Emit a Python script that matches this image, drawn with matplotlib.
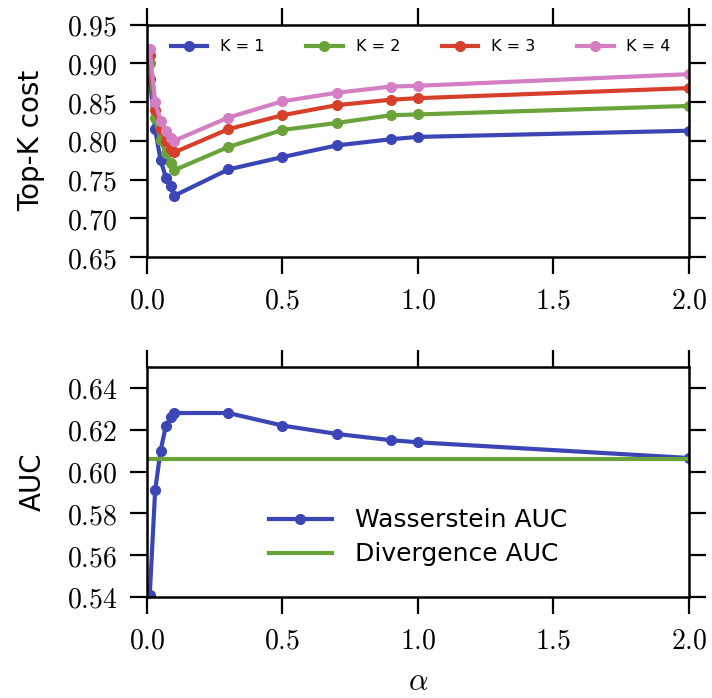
import numpy as np
import matplotlib
matplotlib.use('Agg')
import matplotlib.pyplot as plt
from matplotlib.ticker import FuncFormatter

plt.rcParams['mathtext.fontset'] = 'cm'

###Data###
alpha = [0.01, 0.03, 0.05, 0.07, 0.09, 0.1, 0.3, 0.5, 0.7, 0.9, 1.0, 2.0]

cost_k1 = [0.880, 0.815, 0.775, 0.752, 0.741, 0.729, 0.763, 0.779, 0.794, 0.802, 0.805, 0.813]
cost_k2 = [0.900, 0.829, 0.801, 0.784, 0.771, 0.762, 0.792, 0.814, 0.823, 0.833, 0.834, 0.845]
cost_k3 = [0.911, 0.840, 0.815, 0.800, 0.790, 0.785, 0.815, 0.833, 0.846, 0.853, 0.855, 0.868]
cost_k4 = [0.919, 0.850, 0.826, 0.812, 0.804, 0.800, 0.830, 0.851, 0.862, 0.870, 0.871, 0.886]
k_labels = ['K = 1', 'K = 2', 'K = 3', 'K = 4']

wass_auc = [0.541, 0.591, 0.610, 0.622, 0.626, 0.628, 0.628, 0.622, 0.618, 0.615, 0.614, 0.6065]
div_auc = 0.606

colors = ['#3b45b5', '#6aa33a', '#d6402b', '#d47fc4']


def styleAxes(ax, yfmt):
	for sp in ax.spines.values():
		sp.set_linewidth(1.8)
	ax.tick_params(direction='out', length=12.5, width=1.6, top=True, right=True,
		labelsize=20, pad=9)
	ax.xaxis.set_major_formatter(FuncFormatter(lambda v, p: '$%.1f$' % v))
	ax.yaxis.set_major_formatter(FuncFormatter(lambda v, p: yfmt % v))


fig = plt.figure(figsize=(7.12, 6.98), dpi=100)
ax1 = fig.add_axes([0.2065, 0.6318, 0.761, 0.333])
ax2 = fig.add_axes([0.2065, 0.1447, 0.761, 0.3295])

for vals, c, lab in zip([cost_k1, cost_k2, cost_k3, cost_k4], colors, k_labels):
	ax1.plot(alpha, vals, '-o', color=c, lw=3.0, ms=7, label=lab)
ax1.set_xlim(0, 2.0)
ax1.set_ylim(0.65, 0.95)
ax1.set_xticks(np.arange(0, 2.01, 0.5))
ax1.set_yticks(np.arange(0.65, 0.951, 0.05))
styleAxes(ax1, '$%.2f$')
ax1.set_ylabel('Top-K cost', fontsize=20, labelpad=16)
ax1.legend(loc='center', bbox_to_anchor=(0.505, 0.905), ncol=4, frameon=False,
	fontsize=11.5, handlelength=2.3, columnspacing=2.6, handletextpad=0.8)

ax2.plot(alpha, wass_auc, '-o', color=colors[0], lw=3.0, ms=7, label='Wasserstein AUC')
ax2.plot([0, 2.0], [div_auc, div_auc], '-', color=colors[1], lw=3.0, label='Divergence AUC')
ax2.set_xlim(0, 2.0)
ax2.set_ylim(0.54, 0.65)
ax2.set_xticks(np.arange(0, 2.01, 0.5))
ax2.set_yticks(np.arange(0.54, 0.641, 0.02))
styleAxes(ax2, '$%.2f$')
ax2.set_ylabel('AUC', fontsize=20, labelpad=14)
ax2.set_xlabel(r'$\alpha$', fontsize=22, labelpad=9)
ax2.legend(loc='center', bbox_to_anchor=(0.5, 0.259), frameon=False,
	fontsize=18, handlelength=2.5, handletextpad=0.92, labelspacing=0.4)

plt.savefig('out.png', dpi=100)
